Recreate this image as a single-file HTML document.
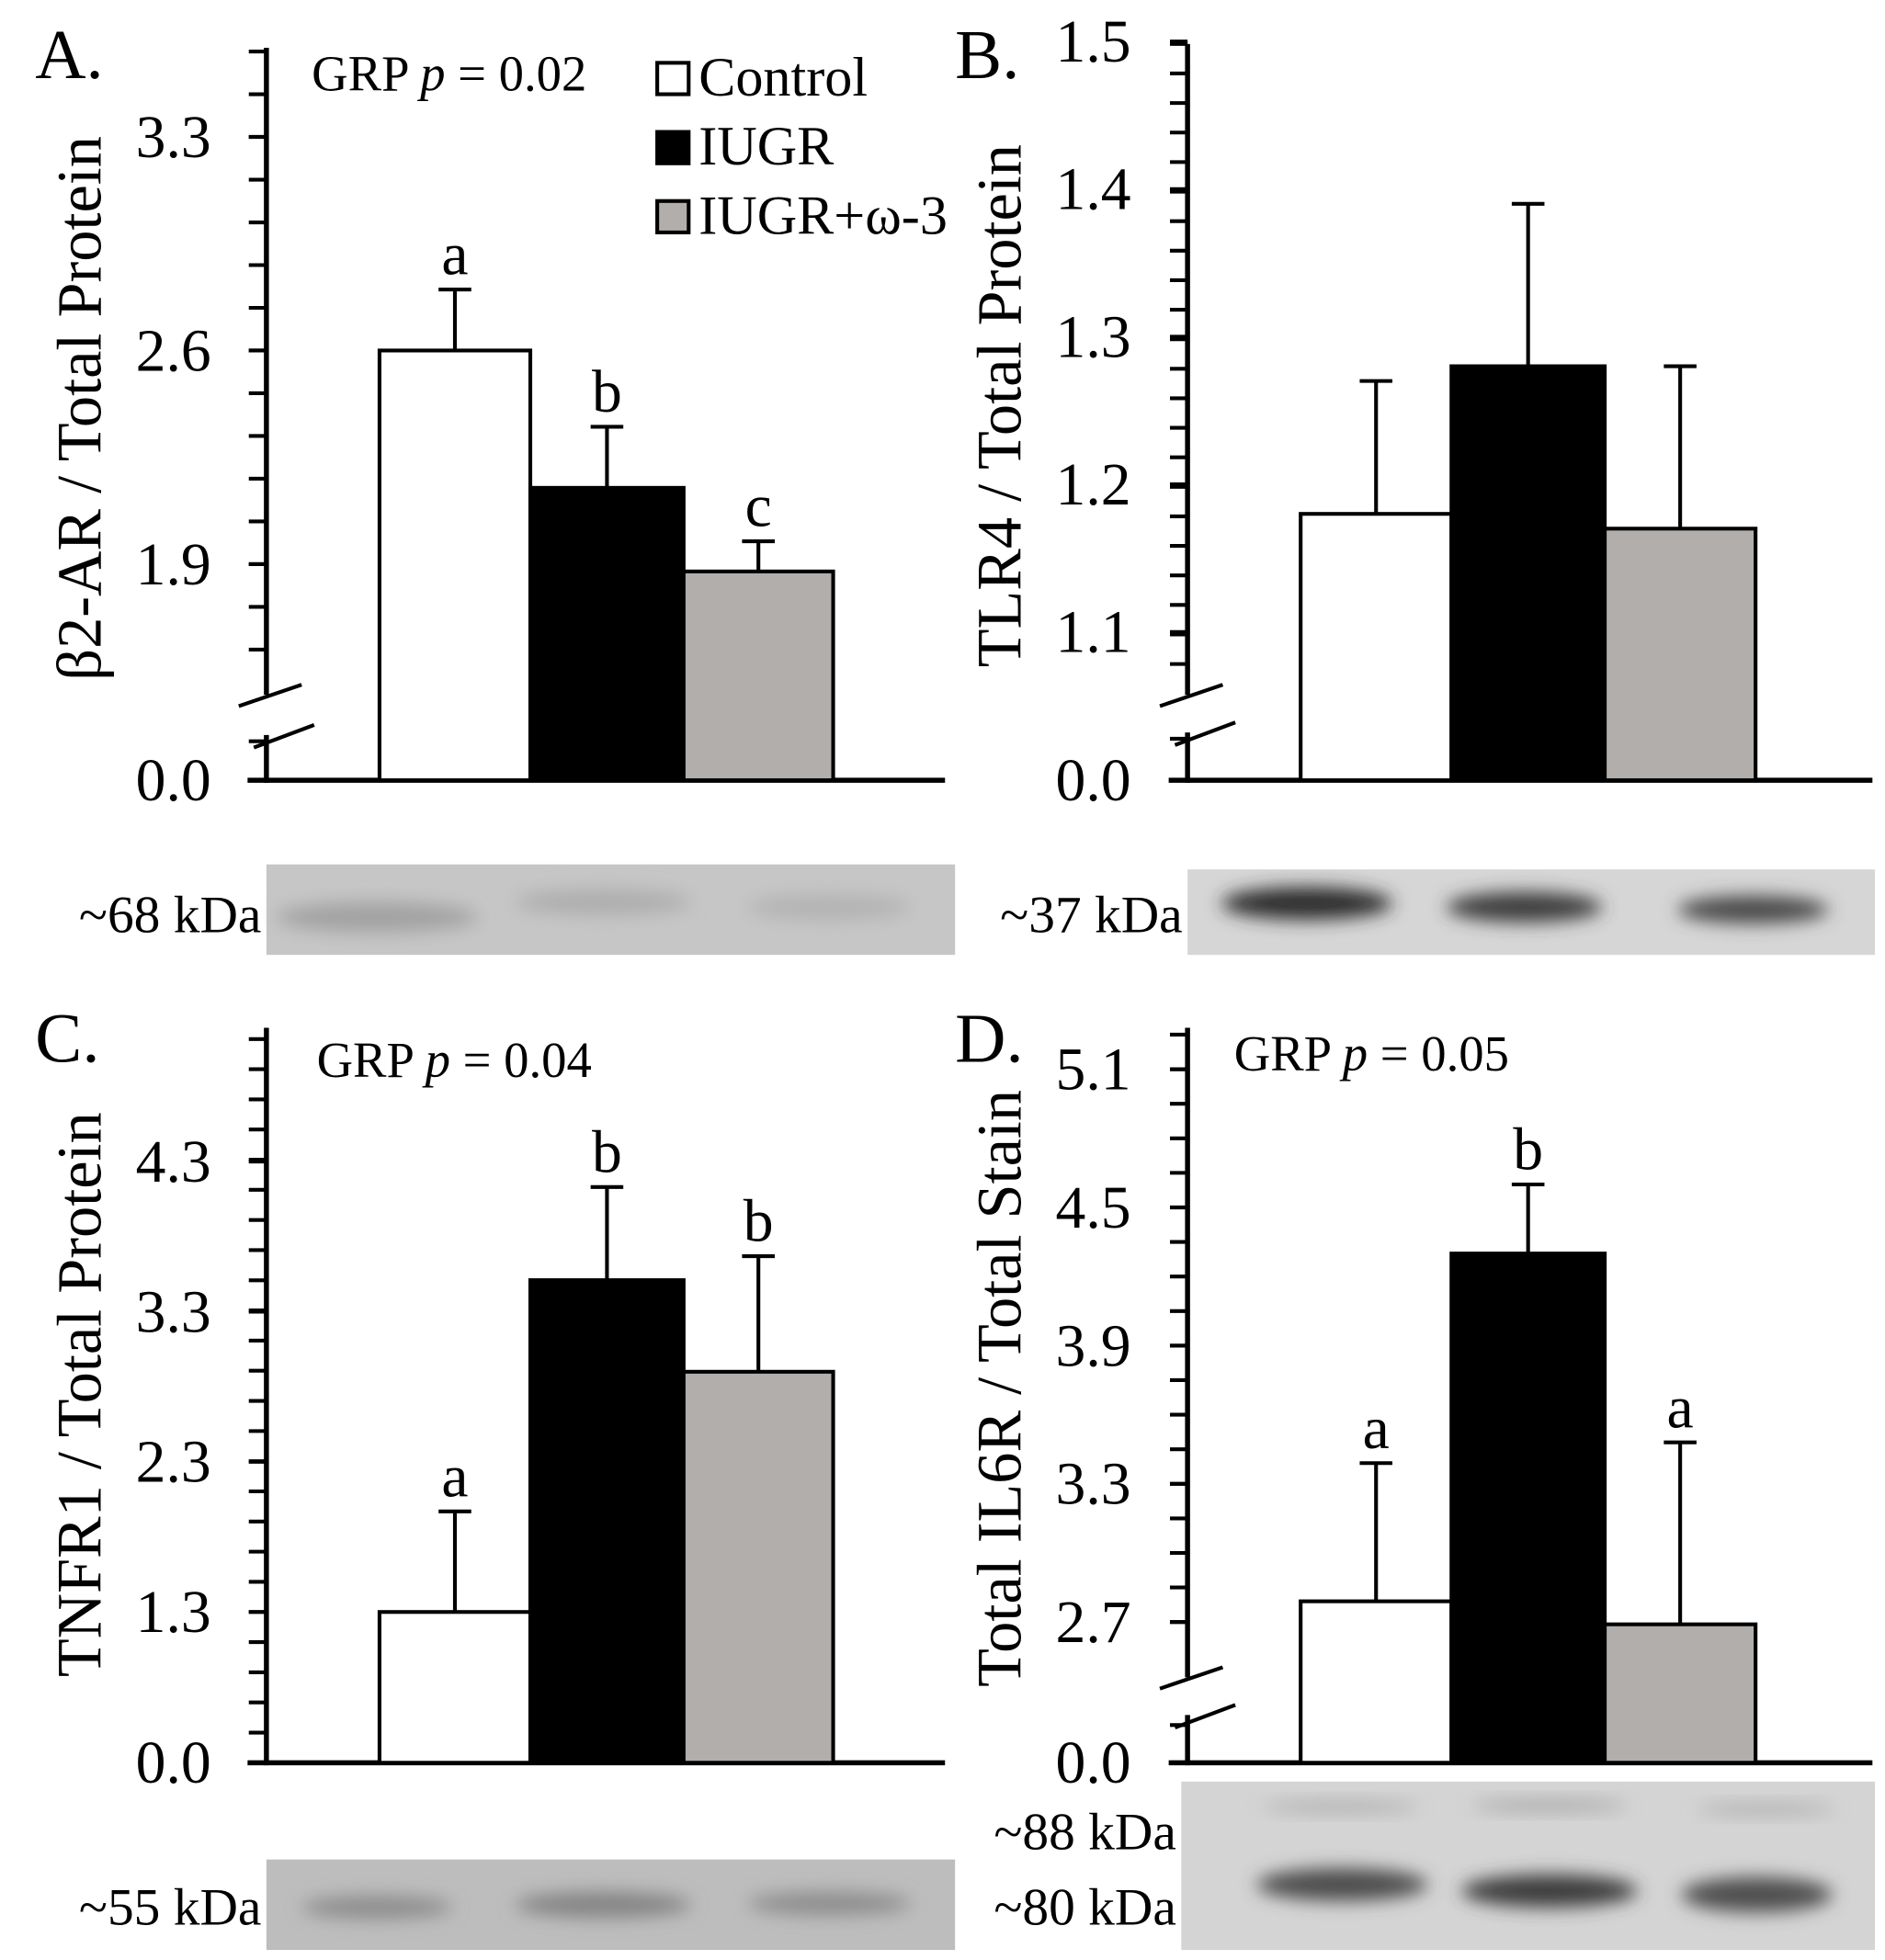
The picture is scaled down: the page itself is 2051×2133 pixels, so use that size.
<!DOCTYPE html>
<html><head><meta charset="utf-8"><style>
html,body{margin:0;padding:0;background:#fff}
svg{display:block}
text{font-family:"Liberation Serif",serif;fill:#000}
</style></head><body>
<svg id="fig" xmlns="http://www.w3.org/2000/svg" width="2051" height="2133" viewBox="0 0 1500 1560" preserveAspectRatio="none">
<defs>
<filter id="blur" x="-20%" y="-100%" width="140%" height="300%"><feGaussianBlur stdDeviation="7"/></filter>
</defs>
<g id="root"></g>
</svg>
<script>
const groups = ["Control","IUGR","IUGR+ω-3"];
const fills = ["#ffffff","#000000","#b1aeac"];
const aValues = [2.6, 2.15, 1.876];
const aErrors = [2.80, 2.35, 1.975];
const aLetters = ["a","b","c"];
const aTicks = [3.3, 2.6, 1.9];
const bValues = [1.18, 1.28, 1.17];
const bErrors = [1.27, 1.39, 1.28];
const bTicks = [1.5, 1.4, 1.3, 1.2, 1.1];
const cValues = [1.3, 3.51, 2.90];
const cErrors = [1.97, 4.13, 3.67];
const cLetters = ["a","b","b"];
const cTicks = [4.3, 3.3, 2.3, 1.3];
const dValues = [2.79, 4.30, 2.69];
const dErrors = [3.39, 4.60, 3.48];
const dLetters = ["a","b","a"];
const dTicks = [5.1, 4.5, 3.9, 3.3, 2.7];

const NS="http://www.w3.org/2000/svg";
const root=document.getElementById('root');
function el(tag,attrs,parent){const e=document.createElementNS(NS,tag);for(const k in attrs)e.setAttribute(k,attrs[k]);(parent||root).appendChild(e);return e;}
function txt(s,attrs,parent){const t=el('text',attrs,parent);t.textContent=s;return t;}

function panel(p){
  const g=el('g',{});
  
  
  const y=v=>p.y0+(p.v0-v)*p.k;
  const ax=p.ax;
  if(p.brk){
    el('line',{x1:ax,y1:p.top,x2:ax,y2:p.brk[0],stroke:'#000','stroke-width':4},g);
    el('line',{x1:ax,y1:p.brk[1],x2:ax,y2:p.base+2,stroke:'#000','stroke-width':4},g);
    el('line',{x1:ax-22,y1:p.brk[0]+9,x2:ax+28,y2:p.brk[0]-8,stroke:'#000','stroke-width':3},g);
    el('line',{x1:ax-10,y1:p.brk[1]+10,x2:ax+38,y2:p.brk[1]-8,stroke:'#000','stroke-width':3},g);
  } else {
    el('line',{x1:ax,y1:p.top,x2:ax,y2:p.base+2,stroke:'#000','stroke-width':4},g);
  }
  const xa=el('line',{x1:ax-15,y1:p.base,x2:p.xEnd,y2:p.base,stroke:'#000','stroke-width':4},g);
  
  
  p.minor.forEach(ty=>el('line',{x1:ax-14,y1:ty,x2:ax,y2:ty,stroke:'#000','stroke-width':3},g));
  p.ticks.forEach(v=>{
    const ty=y(v);
    el('line',{x1:ax-14,y1:ty,x2:ax,y2:ty,stroke:'#000','stroke-width':3},g);
    const t=txt(v.toFixed(1),{x:p.lx,y:ty+16,'text-anchor':'end','font-size':48},g);
    
    
  });
  const z=txt('0.0',{x:p.lx,y:p.base+16,'text-anchor':'end','font-size':48},g);
  
  
  p.values.forEach((v,i)=>{
    const x0=p.bx[i],x1=p.bx[i+1],cx=(x0+x1)/2,top=y(v);
    const ey=y(p.errors[i]);
    const e=el('line',{x1:cx,y1:top,x2:cx,y2:ey,stroke:'#000','stroke-width':3},g);
    
    
    el('line',{x1:cx-13,y1:ey,x2:cx+13,y2:ey,stroke:'#000','stroke-width':3},g);
    const r=el('rect',{x:x0,y:top,width:x1-x0,height:p.base-top,fill:fills[i],stroke:'#000','stroke-width':3},g);
    
    
    if(p.letters){
      const l=txt(p.letters[i],{x:cx,y:ey-12,'text-anchor':'middle','font-size':48},g);
      
      
    }
  });
  const yt=txt(p.title,{x:0,y:0,'text-anchor':'middle','font-size':50,transform:`translate(${p.tx},${p.ty}) rotate(-90)`},g);
  
  
  const pl=txt(p.id.toUpperCase()+'.',{x:p.plx,y:p.ply,'font-size':56},g);
  
  
  if(p.grp){
    const gt=el('text',{x:p.grp[0],y:p.grp[1],'font-size':40},g);
    
    
    gt.innerHTML='GRP <tspan font-style="italic">p</tspan> = '+p.grp[2];
  }
  const b=p.blot;
  const bg=el('g',{},g);
  
  
  el('rect',{x:b.x,y:b.y,width:b.w,height:b.h,fill:b.bg},bg);
  b.bands.forEach(bd=>el('ellipse',{cx:bd[0],cy:bd[1],rx:bd[2],ry:bd[3],fill:bd[4],filter:'url(#blur)'},bg));
  b.labels.forEach(l=>{
    const t=txt(l[0],{x:b.x-4,y:l[1],'text-anchor':'end','font-size':42},g);
    
    
  });
}

function range(a,b,s){const r=[];for(let v=a;v<=b+0.001;v+=s)r.push(v);return r;}

panel({id:'a',ax:212,top:38,base:621,xEnd:752,y0:449,v0:1.9,k:242.9,ticks:aTicks,lx:168,
  minor:range(0,14,1).map(i=>449-(i-2)*34).filter(t=>t>=38&&t<=520).concat([590]),
  brk:[553,585],values:aValues,errors:aErrors,letters:aLetters,bx:[302,422,544,663],
  title:'β2-AR  / Total Protein',tx:80,ty:325,plx:28,ply:62,grp:[248,72,'0.02'],
  blot:{x:212,y:688,w:548,h:72,bg:'#c6c6c6',bands:[[300,730,80,12,'#a2a2a2'],[480,718,70,10,'#adadad'],[660,722,65,10,'#b3b3b3']],labels:[['~68 kDa',742]]}});

panel({id:'b',ax:945,top:35,base:621,xEnd:1490,y0:503,v0:1.1,k:1175,ticks:bTicks,lx:900,
  minor:range(0,21,1).map(i=>35+i*23.5).filter(t=>t<=550).concat([588]),
  brk:[553,583],values:bValues,errors:bErrors,letters:null,bx:[1035,1155,1277,1397],
  title:'TLR4 / Total Protein',tx:812,ty:323,plx:760,ply:62,grp:null,
  blot:{x:945,y:692,w:547,h:68,bg:'#d6d6d6',bands:[[1040,719,68,13,'#2d2d2d'],[1213,722,62,12,'#3c3c3c'],[1395,724,60,11,'#4a4a4a']],labels:[['~37 kDa',742]]}});

panel({id:'c',ax:212,top:818,base:1403,xEnd:752,y0:1283,v0:1.3,k:119.5,ticks:cTicks,lx:168,
  minor:range(0,24,1).map(i=>1403-i*24).filter(t=>t>=822),
  brk:null,values:cValues,errors:cErrors,letters:cLetters,bx:[302,422,544,663],
  title:'TNFR1 / Total Protein',tx:80,ty:1110,plx:28,ply:845,grp:[252,857,'0.04'],
  blot:{x:212,y:1480,w:548,h:72,bg:'#bdbdbd',bands:[[300,1518,60,9,'#8c8c8c'],[480,1516,70,10,'#838383'],[660,1515,65,9,'#8c8c8c']],labels:[['~55 kDa',1532]]}});

panel({id:'d',ax:945,top:818,base:1403,xEnd:1490,y0:1291,v0:2.7,k:183.3,ticks:dTicks,lx:900,
  minor:range(0,20,1).map(i=>1291-i*27.5).filter(t=>t>=822).concat([1373]),
  brk:[1335,1365],values:dValues,errors:dErrors,letters:dLetters,bx:[1035,1155,1277,1397],
  title:'Total IL6R / Total Stain',tx:812,ty:1105,plx:760,ply:845,grp:[982,852,'0.05'],
  blot:{x:940,y:1418,w:552,h:134,bg:'#d4d4d4',bands:[[1067,1438,62,4,'#a8a8a8'],[1233,1437,62,4,'#a0a0a0'],[1405,1440,55,4,'#aaaaaa'],[1068,1500,68,13,'#4e4e4e'],[1233,1505,70,13,'#3e3e3e'],[1398,1508,60,14,'#505050']],labels:[['~88 kDa',1472],['~80 kDa',1532]]}});

const lg=el('g',{});


groups.forEach((name,i)=>{
  const yy=50+i*55;
  const r=el('rect',{x:523,y:yy,width:25,height:25,fill:fills[i],stroke:'#000','stroke-width':3},lg);
  
  
  const t=txt(name,{x:556,y:yy+26,'font-size':44},lg);
  
  
});
</script>
</body></html>
